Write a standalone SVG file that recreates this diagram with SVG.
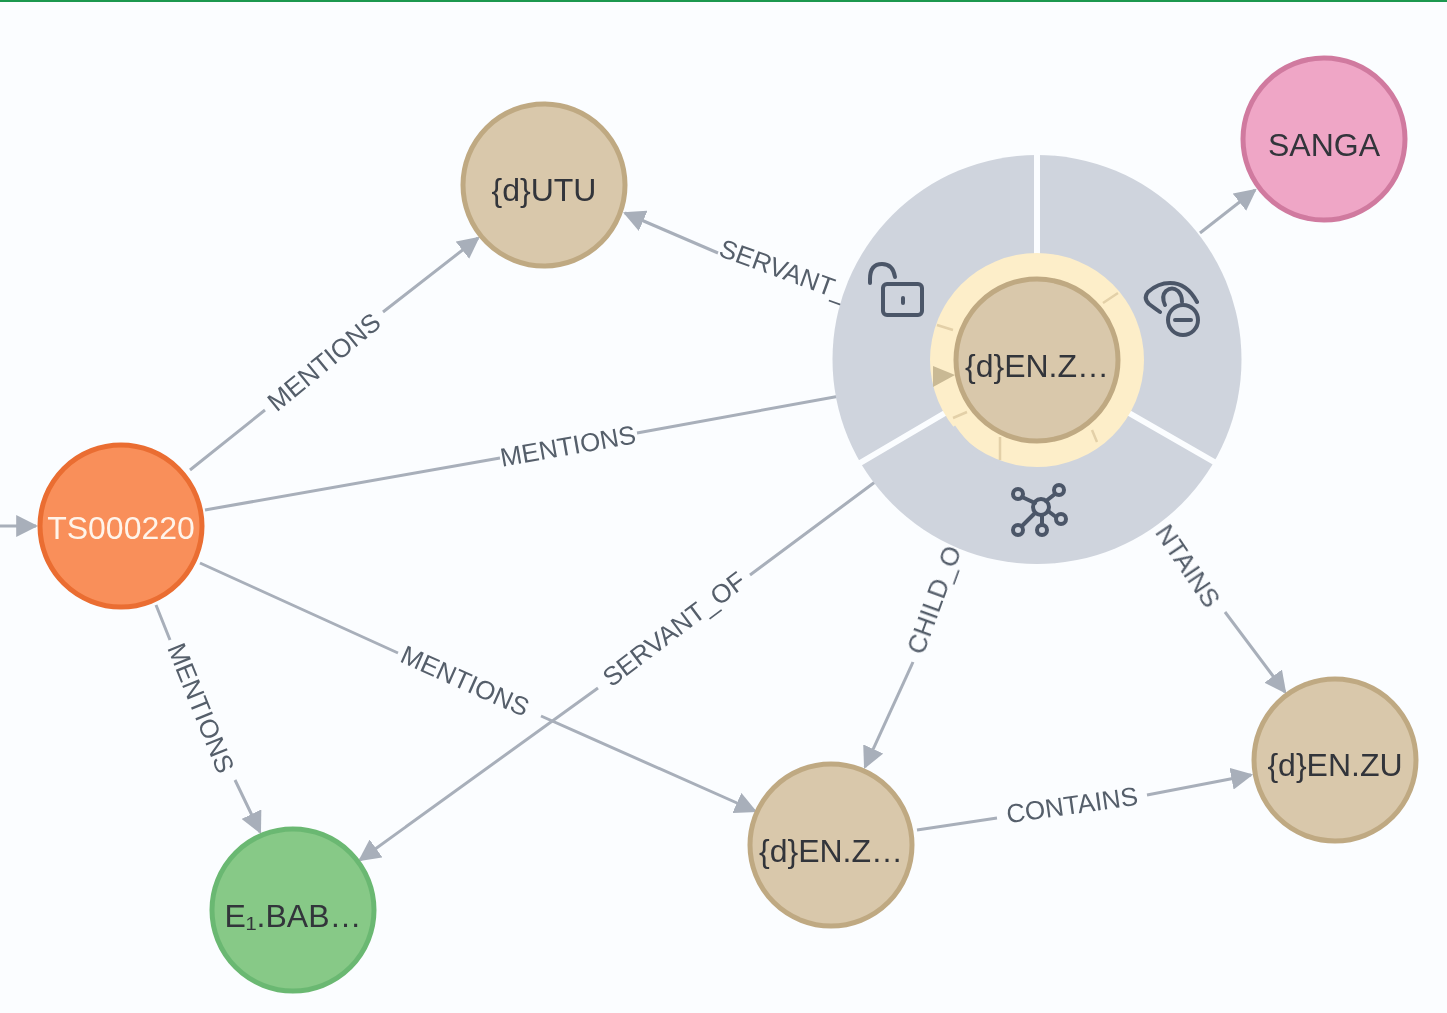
<svg xmlns="http://www.w3.org/2000/svg" width="1447" height="1013" viewBox="0 0 1447 1013">
<style>
.edge{fill:none;stroke:#a8afba;stroke-width:3}
.head{fill:#a8afba}
.elabel{font-family:"Liberation Sans",Arial,sans-serif;font-size:26px;fill:#555e6b;text-anchor:middle;dominant-baseline:central}
.nlabel{font-family:"Liberation Sans",Arial,sans-serif;font-size:32px;fill:#33343a;text-anchor:middle;dominant-baseline:central}
.tan{fill:#d9c8ab;stroke:#bfa982;stroke-width:5}
.icon{fill:none;stroke:#4c5668;stroke-width:4;stroke-linecap:round;stroke-linejoin:round}
.gap{stroke:#fbfdff;stroke-width:6}
.notch{stroke:#e3d0a8;stroke-width:2.5}
</style>
<defs>
<marker id="arrow" viewBox="0 0 10 10" refX="9" refY="5" markerWidth="22" markerHeight="22" markerUnits="userSpaceOnUse" orient="auto"><path class="head" d="M0 0L10 5L0 10Z"/></marker>
<filter id="soft" filterUnits="userSpaceOnUse" x="0" y="0" width="1447" height="1013"><feGaussianBlur stdDeviation="0.6"/></filter>
</defs>
<rect width="1447" height="1013" fill="#fbfdff"/>
<g filter="url(#soft)">
<rect width="1447" height="2" fill="#1a9850"/>
<g id="connectors">
<path class="edge" d="M190 470L265 410M383 312L478 238" marker-end="url(#arrow)"/>
<text class="elabel" transform="translate(324 362) rotate(-39.5)">MENTIONS</text>
<path class="edge" d="M205 510L500 458M637 433L840 396"/>
<text class="elabel" transform="translate(568 446) rotate(-10)">MENTIONS</text>
<path class="edge" d="M200 563L398 653M541 716L755 811" marker-end="url(#arrow)"/>
<text class="elabel" transform="translate(465 681) rotate(24)">MENTIONS</text>
<path class="edge" d="M156 605L170 640M235 780L260 832" marker-end="url(#arrow)"/>
<text class="elabel" transform="translate(201 708) rotate(68)">MENTIONS</text>
<path class="edge" d="M0 526H36" marker-end="url(#arrow)"/>
<path class="edge" d="M718 253L625 213" marker-end="url(#arrow)"/>
<text class="elabel" transform="translate(784 270) rotate(20)">SERVANT_</text>
<path class="edge" d="M875 482L750 575M598 688L360 860" marker-end="url(#arrow)"/>
<text class="elabel" transform="translate(674 629) rotate(-37)">SERVANT_OF</text>
<path class="edge" d="M913 662L865 767" marker-end="url(#arrow)"/>
<text class="elabel" transform="translate(934 600) rotate(-70)">CHILD_O</text>
<path class="edge" d="M1225 612L1285 692" marker-end="url(#arrow)"/>
<text class="elabel" transform="translate(1188 566) rotate(56)">NTAINS</text>
<path class="edge" d="M917 830L997 818M1147 795L1251 775" marker-end="url(#arrow)"/>
<text class="elabel" transform="translate(1072 805) rotate(-8)">CONTAINS</text>
<path class="edge" d="M1200 233L1255 190" marker-end="url(#arrow)"/>
</g>
<g id="selection-ring">
<circle cx="1037" cy="359.5" r="204.5" fill="#cfd4dd"/>
<path class="gap" d="M1037 153V255M945 413L860 463M1129 413L1216 463"/>
<g id="icon-lock" class="icon"><rect x="883" y="284" width="39" height="31" rx="4"/><path d="M870 283V279Q870 264 882 264Q893 264 895 277"/><path d="M903 298V303"/></g>
<g id="icon-eye" class="icon"><path d="M1160 312L1149 304Q1143 298 1148 292Q1158 283 1170 283Q1187 283 1197 302"/><path d="M1165 305Q1161 296 1166 291Q1172 286 1178 291Q1182 295 1182 302"/><circle cx="1183" cy="320" r="15"/><path d="M1175 320H1191"/></g>
<g id="icon-net" class="icon"><circle cx="1041" cy="507" r="8"/><circle cx="1018" cy="494" r="5"/><circle cx="1059" cy="490" r="5"/><circle cx="1061" cy="519" r="5"/><circle cx="1018" cy="530" r="5"/><circle cx="1042" cy="530" r="5"/><path d="M1022 497L1035 503M1055 494L1046 501M1056 517L1048 511M1022 526L1035 513M1042 525V515"/></g>
</g>
<g id="node-center">
<circle cx="1037" cy="360" r="107" fill="#fdeec9"/>
<path d="M1000 466A107 107 0 0 1 953 427" fill="none" stroke="#cfd4dd" stroke-width="5"/>
<path class="notch" d="M937 325L953 330M1103 303L1118 293M953 418L967 412M1000 437V460M1092 430L1097 442"/>
<path d="M933 366L955 375L933 387Z" fill="#c9b994"/>
<circle class="tan" cx="1037" cy="360" r="81"/>
<text class="nlabel" x="1037" y="366">{d}EN.Z…</text>
</g>
<g id="node-utu"><circle class="tan" cx="544" cy="185" r="81"/><text class="nlabel" x="544" y="190">{d}UTU</text></g>
<g id="node-sanga"><circle cx="1324" cy="139" r="81" fill="#efa6c6" stroke="#d07a9f" stroke-width="5"/><text class="nlabel" x="1324" y="145">SANGA</text></g>
<g id="node-ts"><circle cx="121" cy="526" r="81" fill="#f98f5a" stroke="#ea6d30" stroke-width="5"/><text class="nlabel" x="121" y="528" style="fill:#fff4ea">TS000220</text></g>
<g id="node-bab"><circle cx="293" cy="910" r="81" fill="#87c987" stroke="#6bb872" stroke-width="5"/><text class="nlabel" x="293" y="916">E₁.BAB…</text></g>
<g id="node-enz"><circle class="tan" cx="831" cy="845" r="81"/><text class="nlabel" x="831" y="851">{d}EN.Z…</text></g>
<g id="node-enzu"><circle class="tan" cx="1335" cy="760" r="81"/><text class="nlabel" x="1335" y="765">{d}EN.ZU</text></g>
</g>
</svg>
